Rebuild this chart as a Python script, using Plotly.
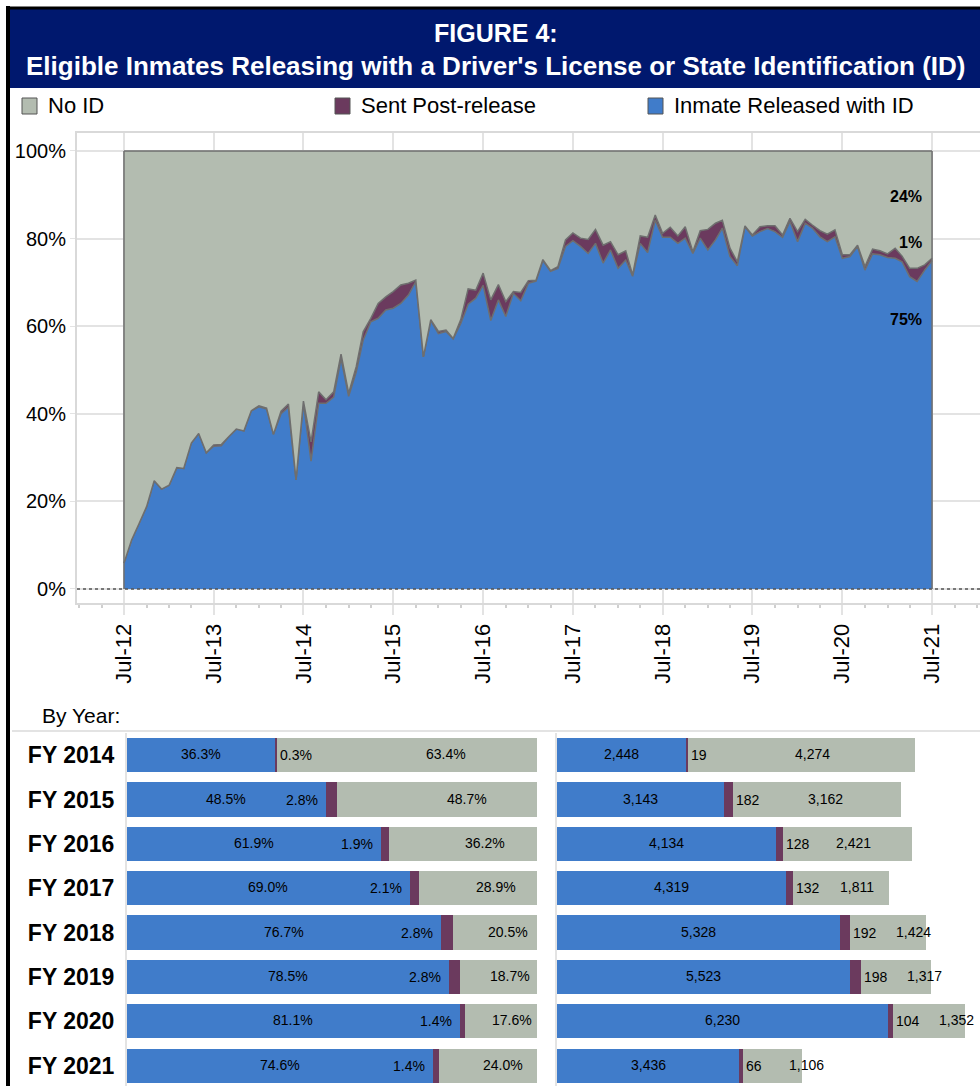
import pandas as pd
import plotly.graph_objects as go

# monthly share of eligible releases, Jul-12 .. Jul-21 (percent)
months = pd.date_range("2012-07-01", periods=109, freq="MS")
released_pct = [5.9, 11.2, 15.0, 18.8, 24.7, 22.8, 23.7, 27.7, 27.5, 33.3,
                35.5, 31.1, 32.6, 32.7, 34.8, 36.5, 36.1, 40.7, 41.6, 41.1,
                35.3, 40.0, 41.5, 24.9, 42.5, 29.2, 42.4, 42.4, 43.8, 52.6,
                44.0, 49.6, 56.8, 61.0, 61.8, 63.7, 64.1, 65.2, 67.1, 70.2,
                53.0, 61.3, 58.3, 58.8, 57.1, 60.6, 65.0, 66.4, 69.3, 61.3,
                66.0, 62.2, 67.5, 65.8, 69.8, 70.3, 75.0, 72.5, 73.2, 78.2,
                79.5, 78.2, 76.6, 78.9, 74.4, 77.4, 73.2, 75.1, 71.4, 78.9,
                76.8, 84.2, 80.3, 80.3, 78.9, 80.1, 76.6, 80.1, 77.4, 79.7,
                82.4, 75.9, 73.8, 82.7, 80.6, 81.6, 82.3, 81.6, 80.3, 83.9,
                79.3, 83.5, 82.4, 80.4, 79.3, 80.4, 75.5, 75.9, 78.2, 72.8,
                76.5, 76.3, 75.7, 75.5, 74.7, 71.3, 70.2, 72.8, 75.0]
post_pct = [0, 0, 0, 0, 0, 0, 0, 0, 0, 0,
            0, 0, 0.3, 0.3, 0, 0, 0, 0, 0.2, 0.2,
            0, 0.6, 0.7, 0, 0.4, 4.4, 2.6, 0.8, 1.2, 1.0,
            0.7, 1.2, 1.9, 0.8, 3.4, 3.0, 3.8, 4.2, 2.7, 0.3,
            0, 0.2, 0.5, 0.3, 0.1, 0.9, 3.5, 1.8, 2.8, 4.7,
            3.5, 3.4, 0.4, 1.9, 0.6, 0.2, 0.2, 0.2, 0.4, 1.5,
            1.8, 1.9, 3.2, 3.2, 4.1, 1.9, 3.1, 2.1, 0.3, 1.7,
            3.5, 1.2, 0.9, 2.3, 1.7, 2.6, 0.4, 1.7, 4.7, 3.8,
            1.8, 1.9, 0.9, 0.2, 0.2, 1.1, 0.6, 1.3, 0.5, 0.7,
            2.3, 0.9, 0.7, 1.4, 1.7, 1.6, 0.8, 0.4, 0.3, 0.8,
            1.1, 0.9, 0.8, 2.3, 1.3, 1.9, 3.0, 1.2, 0.5]
noid_pct = [round(100 - r - p, 1) for r, p in zip(released_pct, post_pct)]
end_labels = ["75%", "1%", "24%"]
y_ticks = [0, 20, 40, 60, 80, 100]

# by fiscal year
fiscal_years = ["FY 2014", "FY 2015", "FY 2016", "FY 2017", "FY 2018", "FY 2019", "FY 2020", "FY 2021"]
fy_released_pct = [36.3, 48.5, 61.9, 69.0, 76.7, 78.5, 81.1, 74.6]
fy_post_pct = [0.3, 2.8, 1.9, 2.1, 2.8, 2.8, 1.4, 1.4]
fy_noid_pct = [63.4, 48.7, 36.2, 28.9, 20.5, 18.7, 17.6, 24.0]
fy_released_n = [2448, 3143, 4134, 4319, 5328, 5523, 6230, 3436]
fy_post_n = [19, 182, 128, 132, 192, 198, 104, 66]
fy_noid_n = [4274, 3162, 2421, 1811, 1424, 1317, 1352, 1106]

legend_names = ["No ID", "Sent Post-release", "Inmate Released with ID"]

BLUE = "#407cca"
PURPLE = "#6b3a5e"
GRAY = "#b3bcb0"
OUTLINE = "#6e6e6e"
NAVY = "#00186e"
LIGHT = "#e3e3e3"
FONT = "Liberation Sans, Arial, sans-serif"

W, H = 980, 1086


def px(x):
    return x / W


def py(y):
    return 1 - y / H


fig = go.Figure()

# ---- monthly area chart ----
for vals, color, name in [(released_pct, BLUE, legend_names[2]),
                          (post_pct, PURPLE, legend_names[1]),
                          (noid_pct, GRAY, legend_names[0])]:
    fig.add_trace(go.Scatter(x=months, y=vals, name=name, stackgroup="one", mode="lines",
                             line=dict(color=OUTLINE, width=1.5), fillcolor=color,
                             showlegend=False, xaxis="x", yaxis="y"))

# ---- by year bars (percent and counts) ----
for vals, color in [(fy_released_pct, BLUE), (fy_post_pct, PURPLE), (fy_noid_pct, GRAY)]:
    fig.add_trace(go.Bar(y=fiscal_years, x=vals, orientation="h", marker=dict(color=color, line_width=0),
                         width=0.77, showlegend=False, xaxis="x2", yaxis="y2"))
for vals, color in [(fy_released_n, BLUE), (fy_post_n, PURPLE), (fy_noid_n, GRAY)]:
    fig.add_trace(go.Bar(y=fiscal_years, x=vals, orientation="h", marker=dict(color=color, line_width=0),
                         width=0.77, showlegend=False, xaxis="x3", yaxis="y3"))

annotations = []
lbl = dict(family=FONT, size=14, color="black")
for fy, r, p, g in zip(fiscal_years, fy_released_pct, fy_post_pct, fy_noid_pct):
    annotations.append(dict(x=r / 2, y=fy, xref="x2", yref="y2", text=f"{r:.1f}%", showarrow=False,
                            font=lbl, yshift=1))
    if p < 1:
        annotations.append(dict(x=r + p, y=fy, xref="x2", yref="y2", text=f"{p:.1f}%", showarrow=False,
                                font=lbl, xanchor="left", xshift=1))
    else:
        annotations.append(dict(x=r, y=fy, xref="x2", yref="y2", text=f"{p:.1f}%", showarrow=False,
                                font=lbl, xanchor="right", xshift=-6))
    annotations.append(dict(x=r + p + 0.65 * g, y=fy, xref="x2", yref="y2", text=f"{g:.1f}%",
                            showarrow=False, font=lbl, yshift=1))
for fy, r, p, g in zip(fiscal_years, fy_released_n, fy_post_n, fy_noid_n):
    annotations.append(dict(x=r / 2, y=fy, xref="x3", yref="y3", text=f"{r:,}", showarrow=False,
                            font=lbl, yshift=1))
    annotations.append(dict(x=r + p, y=fy, xref="x3", yref="y3", text=f"{p:,}", showarrow=False,
                            font=lbl, xanchor="left", xshift=1))
    annotations.append(dict(x=r + p + max(0.55 * g, 1200), y=fy, xref="x3", yref="y3", text=f"{g:,}",
                            showarrow=False, font=lbl, yshift=1))

# end-of-series labels on the area chart
for text, yv in zip(end_labels, [61.6, 79.0, 89.5]):
    annotations.append(dict(x=months[-1], y=yv, xref="x", yref="y", text=f"<b>{text}</b>", showarrow=False,
                            xanchor="right", yanchor="middle", xshift=-8,
                            font=dict(family=FONT, size=16, color="black")))

# title
annotations.append(dict(x=px(496), y=py(33), xref="paper", yref="paper", text="<b>FIGURE 4:</b>",
                        showarrow=False, xanchor="center", yanchor="middle",
                        font=dict(family=FONT, size=25, color="white")))
annotations.append(dict(x=px(496), y=py(66), xref="paper", yref="paper",
                        text="<b>Eligible Inmates Releasing with a Driver's License or State Identification (ID)</b>",
                        showarrow=False, xanchor="center", yanchor="middle",
                        font=dict(family=FONT, size=26, color="white")))

# legend
shapes = []
for name, color, x0 in [(legend_names[0], GRAY, 22), (legend_names[1], PURPLE, 335), (legend_names[2], BLUE, 648)]:
    shapes.append(dict(type="rect", xref="paper", yref="paper", x0=px(x0), x1=px(x0 + 15),
                       y0=py(114), y1=py(98), fillcolor=color, line=dict(color="#555555", width=1)))
    annotations.append(dict(x=px(x0 + 24), y=py(106), xref="paper", yref="paper", text=name, showarrow=False,
                            xanchor="left", yanchor="middle", font=dict(family=FONT, size=22, color="black")))

annotations.append(dict(x=px(40), y=py(715), xref="paper", yref="paper", text="By Year:", showarrow=False,
                        xanchor="left", yanchor="middle", font=dict(family=FONT, size=21, color="black")))

# frame, banner, separators
shapes += [
    dict(type="rect", xref="paper", yref="paper", x0=px(10), x1=1, y0=py(88), y1=py(9),
         fillcolor=NAVY, line_width=0, layer="below"),
    dict(type="line", xref="paper", yref="paper", x0=px(8), x1=px(8), y0=0, y1=py(6), line=dict(color="black", width=4)),
    dict(type="line", xref="paper", yref="paper", x0=px(6), x1=1, y0=py(8), y1=py(8), line=dict(color="black", width=3)),
    dict(type="line", xref="paper", yref="paper", x0=px(12), x1=1, y0=py(731), y1=py(731), line=dict(color=LIGHT, width=2)),
    dict(type="line", xref="paper", yref="y", x0=px(77), x1=1, y0=0, y1=0, line=dict(color="#555555", width=1.5, dash="dot")),
    dict(type="line", xref="x", yref="y", x0=months[0], x1=months[0], y0=0, y1=100, line=dict(color=OUTLINE, width=1.5)),
    dict(type="line", xref="x", yref="y", x0=months[-1], x1=months[-1], y0=0, y1=100, line=dict(color=OUTLINE, width=1.5)),
]

fig.update_layout(
    width=W, height=H, margin=dict(l=0, r=0, t=0, b=0),
    paper_bgcolor="white", plot_bgcolor="white", barmode="stack",
    annotations=annotations, shapes=shapes,
    xaxis=dict(domain=[px(77), 1], anchor="y", type="date", range=["2011-12-23", "2022-01-12"],
               tick0="2012-07-01", dtick="M12", tickformat="%b-%y", tickangle=-90,
               showgrid=True, gridcolor=LIGHT, gridwidth=1.5, ticks="outside", ticklen=10, tickcolor=LIGHT,
               tickwidth=1.5, showline=True, linecolor="#d9d9d9", linewidth=2, mirror=True,
               minor=dict(dtick="M3", ticks="outside", ticklen=3, tickcolor="#cfcfcf", showgrid=False),
               tickfont=dict(family=FONT, size=22, color="black")),
    yaxis=dict(domain=[py(603), py(133)], anchor="x", range=[-3.2, 104.1], tickmode="array",
               tickvals=y_ticks, ticktext=[f"{v}%" for v in y_ticks],
               showgrid=True, gridcolor=LIGHT, gridwidth=1.5, zeroline=False,
               ticks="outside", ticklen=5, tickcolor=LIGHT, showline=True, linecolor="#d9d9d9", linewidth=2,
               tickfont=dict(family=FONT, size=20, color="black")),
    xaxis2=dict(domain=[px(127), px(537)], anchor="y2", range=[0, 100], visible=False),
    yaxis2=dict(domain=[0, py(733)], anchor="x2", type="category", categoryorder="array",
                categoryarray=fiscal_years, range=[7.46, -0.5], showline=True, linecolor=LIGHT, linewidth=2,
                ticks="outside", ticklen=6, tickcolor="rgba(0,0,0,0)", showgrid=False,
                tickfont=dict(family=FONT, size=23, color="black", weight="bold")),
    xaxis3=dict(domain=[px(557), 1], anchor="y3", range=[0, 7969], visible=False),
    yaxis3=dict(domain=[0, py(733)], anchor="x3", type="category", categoryorder="array",
                categoryarray=fiscal_years, range=[7.46, -0.5], showline=True, linecolor=LIGHT, linewidth=2,
                showticklabels=False, showgrid=False),
)

fig.write_html("out.html", config={"displayModeBar": False},
               post_script="document.body.style.margin='0';document.body.style.padding='0';")
